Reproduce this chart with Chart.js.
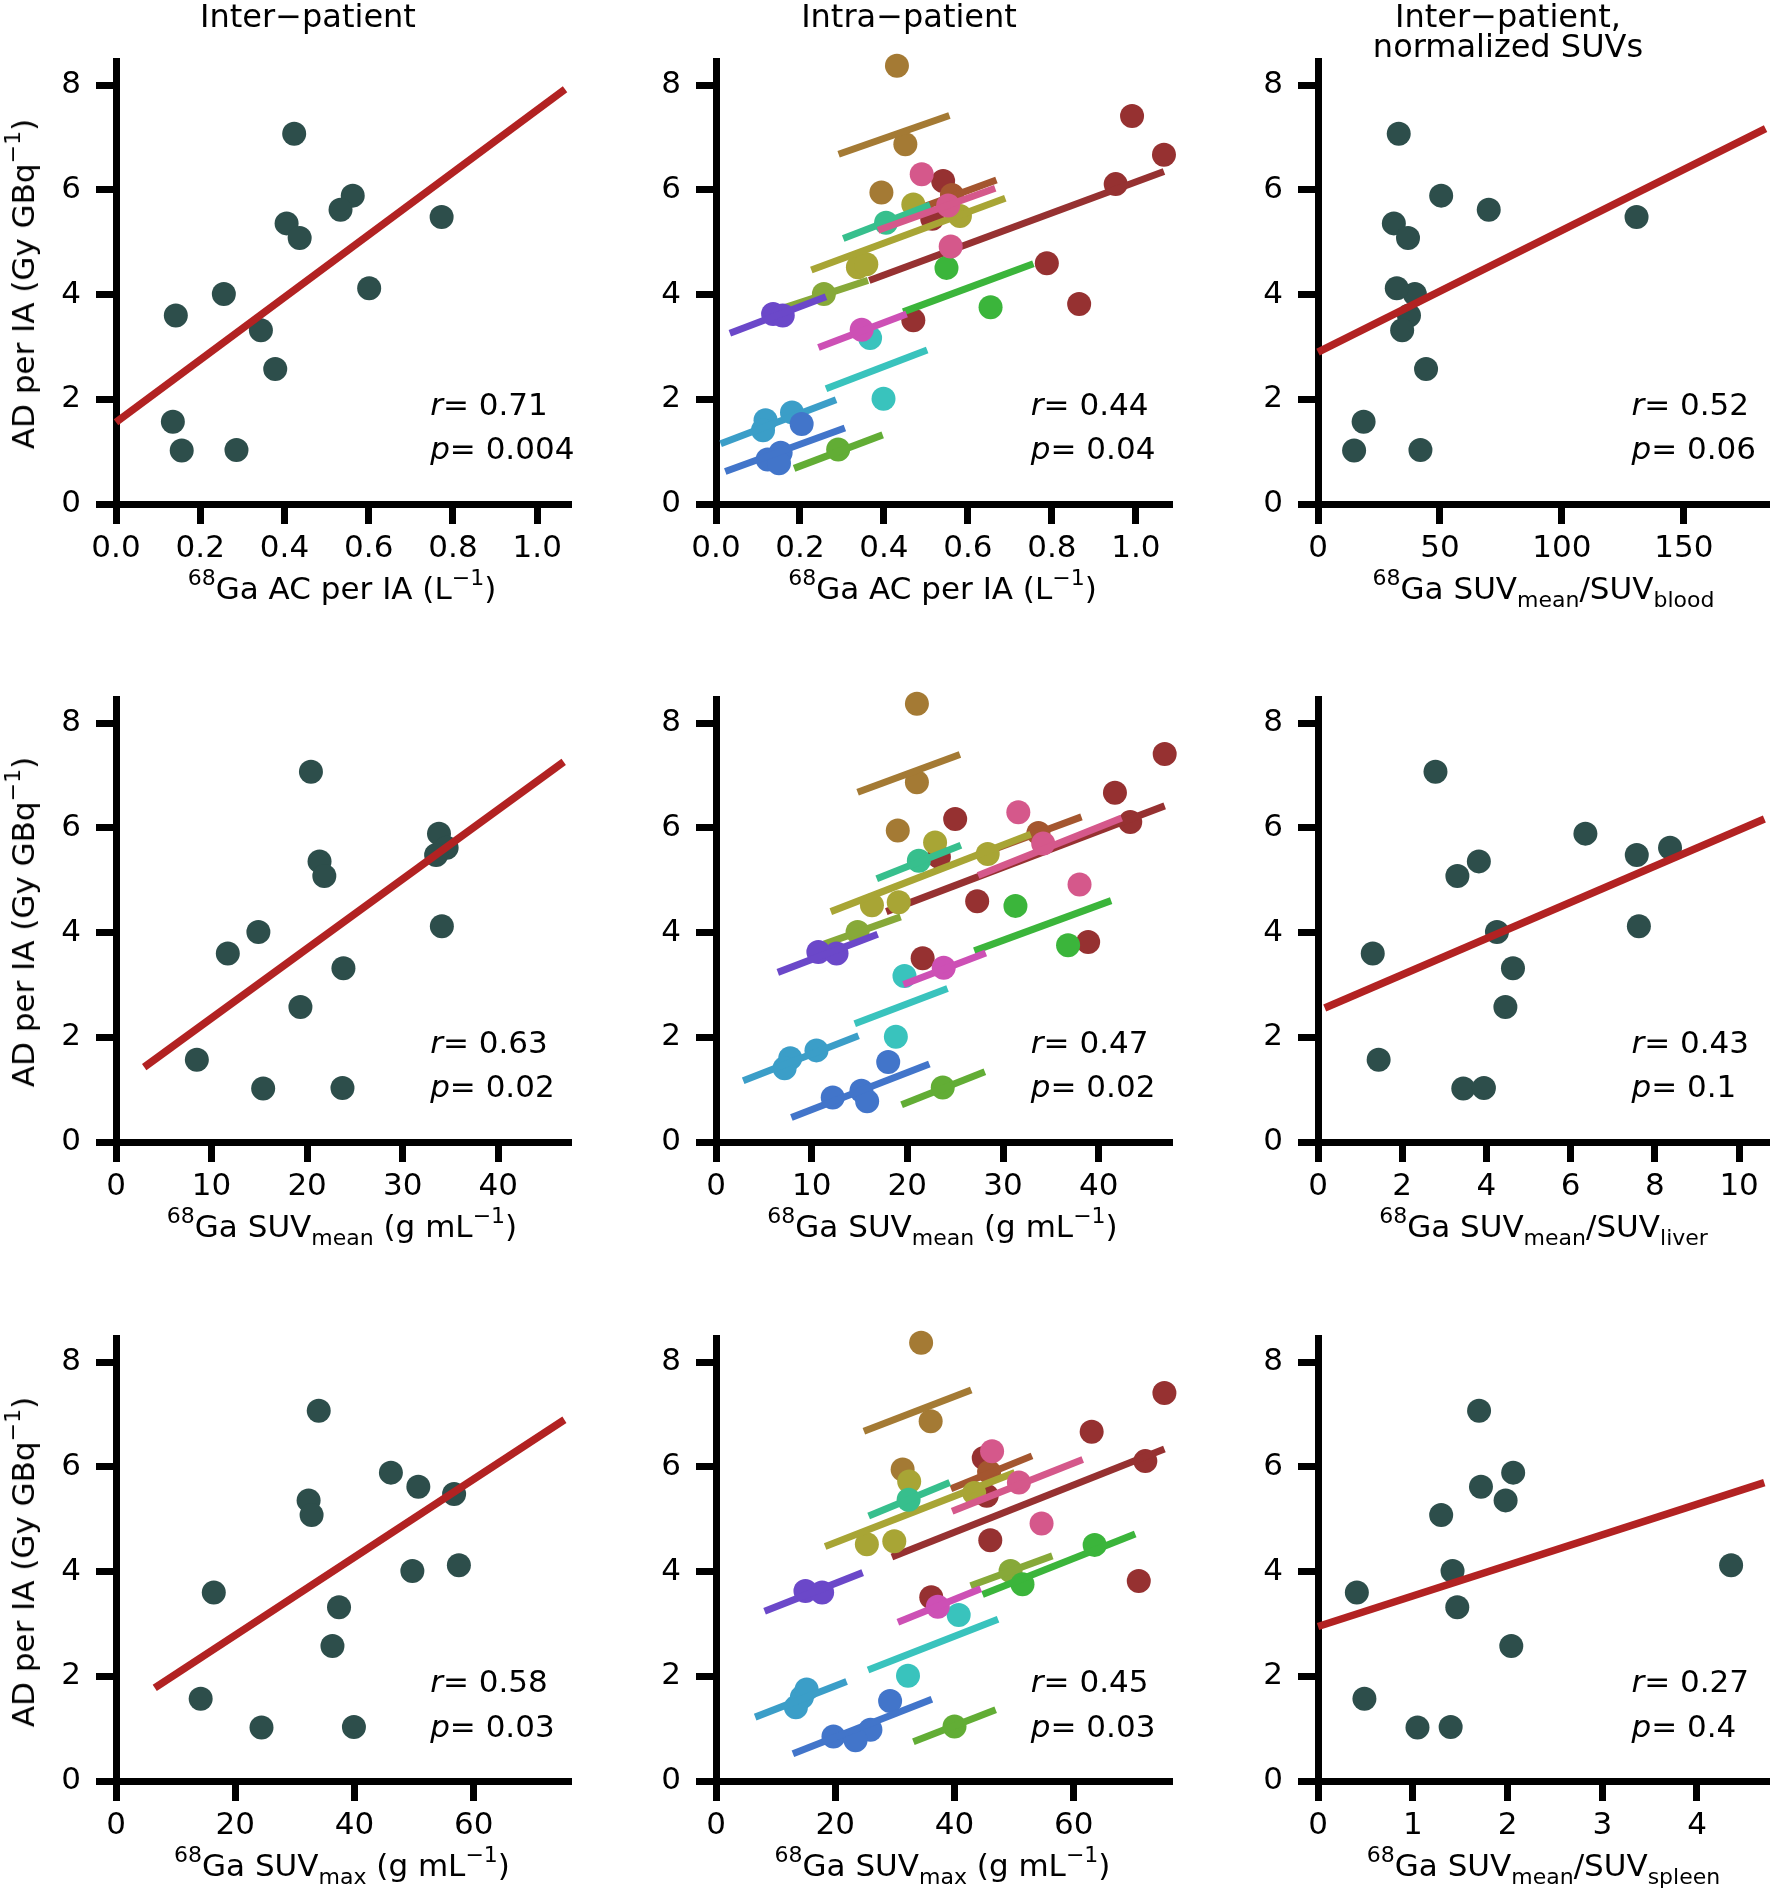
<!DOCTYPE html>
<html><head><meta charset="utf-8">
<script src="https://cdn.jsdelivr.net/npm/chart.js@4.4.0/dist/chart.umd.min.js"></script>
<style>
html,body{margin:0;padding:0;background:#fff;width:1770px;height:1895px;overflow:hidden;}
body{position:relative;font-family:"DejaVu Sans",sans-serif;color:#000;}
canvas{position:absolute;}
.t{position:absolute;white-space:nowrap;font-size:31px;line-height:31px;}
.ttl{position:absolute;white-space:nowrap;font-size:32px;line-height:30px;text-align:center;transform:translateX(-50%);top:1px;}
.sup{font-size:22px;position:relative;top:-14px;}
.sub{font-size:22px;position:relative;top:8px;}
</style></head><body>
<script>
// ---------------- DATA ----------------
// Inter-patient (one value per patient P1..P14)
const patientAD      = [7.07, 5.89, 5.62, 5.36, 5.08, 5.48, 4.01, 4.12, 3.60, 3.32, 2.58, 1.57, 1.02, 1.03];
const patientAC      = [0.423, 0.562, 0.533, 0.405, 0.436, 0.773, 0.256, 0.601, 0.142, 0.344, 0.378, 0.135, 0.156, 0.286];
const patientSUVmean = [20.4, 33.8, 34.6, 21.3, 21.8, 33.5, 14.9, 34.1, 11.7, 23.8, 19.3, 8.46, 15.4, 23.7];
const patientSUVmax  = [34.0, 46.1, 50.7, 32.3, 32.8, 56.7, 49.7, 57.5, 16.4, 37.4, 36.3, 14.2, 24.4, 39.9];
const patientBlood   = [33.1, 50.5, 70.0, 31.1, 36.9, 130.6, 39.7, 32.3, 37.3, 34.5, 44.3, 18.7, 14.8, 42.0];
const patientLiver   = [2.79, 6.35, 8.36, 3.82, 3.31, 7.57, 4.25, 7.62, 1.30, 4.63, 4.45, 1.44, 3.45, 3.94];
const patientSpleen  = [1.70, 2.06, 1.72, 1.98, 1.30, null, 1.42, 4.36, 0.41, 1.47, 2.04, 0.49, 1.05, 1.40];

// Inter-patient regression lines [x0, y0, x1, y1]
const fitAC     = [0, 1.56, 1.066, 7.92];
const fitSUVmean= [2.95, 1.43, 46.85, 7.26];
const fitSUVmax = [6.5, 1.78, 75.2, 6.90];
const fitBlood  = [0, 2.90, 183.5, 7.17];
const fitLiver  = [0.16, 2.56, 10.6, 6.17];
const fitSpleen = [0, 2.95, 4.71, 5.70];

// Intra-patient lesions
const lesionPatient = [0,0,0, 1, 2,2,2, 3, 4,4,4,4, 5,5,5,5,5,5,5,5, 6, 7,7, 8,8, 9, 10,10, 11,11,11, 12,12,12,12, 13];
const lesionAD      = [8.37,6.87,5.95, 5.90, 6.30,5.70,4.92, 5.37, 5.72,5.50,4.52,4.58, 7.41,6.67,6.11,6.17,4.60,3.82,3.51,5.45, 4.01, 4.51,3.76, 3.63,3.60, 3.33, 3.17,2.01, 1.60,1.41,1.75, 1.53,0.98,0.85,0.78, 1.04];
const lesionAC      = [0.431,0.451,0.394, 0.562, 0.490,0.553,0.559, 0.405, 0.470,0.581,0.338,0.358, 0.991,1.067,0.952,0.541,0.788,0.865,0.470,0.515, 0.257, 0.549,0.654, 0.136,0.159, 0.347, 0.367,0.399, 0.118,0.112,0.181, 0.204,0.154,0.123,0.150, 0.291];
const lesionSUVmean = [21.0,21.0,19.0, 33.7, 31.6,34.2,38.0, 21.2, 22.9,28.4,16.3,19.1, 46.9,41.7,43.3,25.0,27.3,38.9,21.6,23.3, 14.8, 31.3,36.8, 10.7,12.6, 23.8, 19.7,18.8, 7.76,7.17,10.5, 18.0,15.2,12.2,15.8, 23.7];
const lesionSUVmax  = [34.4,36.0,31.3, 45.8, 46.3,50.8,54.6, 32.3, 32.4,43.3,25.3,29.9, 75.2,63.0,72.0,44.9,46.0,70.9,36.1,45.4, 49.4, 63.5,51.4, 15.0,17.8, 37.2, 40.7,32.2, 14.4,13.4,15.2, 29.2,25.9,19.7,23.4, 40.0];

// Repeated-measures per-patient lines [x0, y0, x1, y1] (P1..P14)
const rmFitAC = [
 [0.292,6.68,0.556,7.42],[0.462,5.58,0.668,6.19],[0.386,5.23,0.665,6.03],[0.303,5.07,0.510,5.71],
 [0.227,4.47,0.689,5.84],[0.365,4.27,1.067,6.35],[0.160,3.74,0.362,4.27],[0.446,3.67,0.756,4.59],
 [0.033,3.26,0.262,3.96],[0.244,2.99,0.454,3.63],[0.262,2.20,0.503,2.94],[0.011,1.15,0.286,1.99],
 [0.022,0.62,0.307,1.45],[0.186,0.68,0.397,1.32]];
const rmFitSUVmean = [
 [14.8,6.68,25.5,7.40],[29.2,5.60,38.2,6.21],[27.4,5.09,42.4,6.19],[16.8,5.03,25.6,5.67],
 [12.0,4.40,32.9,5.88],[17.8,4.40,46.9,6.42],[11.3,3.78,19.3,4.30],[27.0,3.65,41.3,4.61],
 [6.46,3.24,16.9,3.97],[19.6,3.01,28.2,3.61],[14.5,2.26,24.2,2.93],[2.84,1.17,14.9,2.03],
 [7.88,0.47,22.3,1.49],[19.4,0.71,28.1,1.34]];
const rmFitSUVmax = [
 [24.8,6.68,42.8,7.47],[39.4,5.58,53.0,6.21],[39.6,5.15,61.5,6.14],[25.6,5.06,39.2,5.70],
 [18.3,4.48,50.1,5.89],[29.5,4.28,75.2,6.34],[42.7,3.73,56.4,4.30],[44.7,3.56,70.3,4.72],
 [8.15,3.24,24.6,3.98],[30.5,3.03,44.4,3.67],[25.5,2.12,47.3,3.09],[6.57,1.22,21.9,1.90],
 [12.9,0.52,36.2,1.56],[33.1,0.75,46.9,1.36]];

const patientColors = ['#a47a34','#a4562f','#d5588b','#37bf8d','#a8a535','#963131','#87a939',
                       '#3bb53b','#6b48c9','#cd50b5','#39c3bd','#3b9ec8','#4275ca','#62ad35'];
const drawOrder = [5,1,0,4,6,13,7,3,10,11,12,8,9,2]; // bottom -> top

// Ticks
const ticksY = [0,2,4,6,8];
const ticksAC = [0,0.2,0.4,0.6,0.8,1.0];
const ticksSUVmean = [0,10,20,30,40];
const ticksSUVmax = [0,20,40,60];
const ticksBlood = [0,50,100,150];
const ticksLiver = [0,2,4,6,8,10];
const ticksSpleen = [0,1,2,3,4];

// Statistics text
const statR = ['0.71','0.44','0.52','0.63','0.47','0.43','0.58','0.45','0.27'];
const statP = ['0.004','0.04','0.06','0.02','0.02','0.1','0.03','0.03','0.4'];

const colTitles = ['Inter\u2212patient','Intra\u2212patient','Inter\u2212patient,<br>normalized SUVs'];

// ---------------- LAYOUT ----------------
const SUP = s => `<span class="sup">${s}</span>`;
const SUB = s => `<span class="sub">${s}</span>`;
const LBL = {
  ac:    `${SUP('68')}Ga AC per IA (L${SUP('\u22121')})`,
  mean:  `${SUP('68')}Ga SUV${SUB('mean')} (g mL${SUP('\u22121')})`,
  max:   `${SUP('68')}Ga SUV${SUB('max')} (g mL${SUP('\u22121')})`,
  blood: `${SUP('68')}Ga SUV${SUB('mean')}/SUV${SUB('blood')}`,
  liver: `${SUP('68')}Ga SUV${SUB('mean')}/SUV${SUB('liver')}`,
  spleen:`${SUP('68')}Ga SUV${SUB('mean')}/SUV${SUB('spleen')}`
};
const yLabel = `AD per IA (Gy GBq${SUP('\u22121')})`;

const cols = [{L:116,R:568},{L:716,R:1169},{L:1318,R:1769}];
const rowB = [503.5, 1141.5, 1781];
const YMAX = 8.45, H = 442;
const titleX = [308, 909, 1508];

function addText(html, left, top, extraStyle) {
  const d = document.createElement('div');
  d.className = 't';
  d.innerHTML = html;
  d.style.left = left + 'px';
  d.style.top = top + 'px';
  if (extraStyle) d.style.cssText += extraStyle;
  document.body.appendChild(d);
  return d;
}

function makeChart(row, col, xmax, ticks, dec, datasets) {
  const L = cols[col].L, R = cols[col].R, B = rowB[row], T = B - H;
  const padL = 100, padT = 20, padR = 24, padB = 70;
  const w = (R - L) + padL + padR, h = H + padT + padB;
  const cv = document.createElement('canvas');
  cv.width = w; cv.height = h;
  cv.style.left = (L - padL) + 'px'; cv.style.top = (T - padT) + 'px';
  cv.style.width = w + 'px'; cv.style.height = h + 'px';
  document.body.appendChild(cv);
  const tickFont = {family: 'DejaVu Sans', size: 31};
  const grid = {display: true, drawOnChartArea: false, drawTicks: true, tickLength: 20,
                tickWidth: 7, tickColor: '#000', color: '#000', lineWidth: 7};
  const chart = new Chart(cv.getContext('2d'), {
    type: 'scatter',
    data: {datasets},
    options: {
      responsive: false, maintainAspectRatio: false, animation: false, events: [],
      layout: {padding: {left: 0, top: padT, right: padR, bottom: 0}},
      plugins: {legend: {display: false}, tooltip: {enabled: false}},
      scales: {
        x: {type: 'linear', position: 'bottom', min: 0, max: xmax,
            afterFit: s => { s.height = padB; },
            afterBuildTicks: s => { s.ticks = ticks.map(v => ({value: v})); },
            ticks: {color: '#000', font: tickFont, padding: 6, maxRotation: 0, autoSkip: false,
                    callback: v => Number(v).toFixed(dec)},
            grid: grid, border: {display: true, color: '#000', width: 7}},
        y: {type: 'linear', position: 'left', min: 0, max: YMAX,
            afterFit: s => { s.width = padL; },
            afterBuildTicks: s => { s.ticks = ticksY.map(v => ({value: v})); },
            ticks: {color: '#000', font: tickFont, padding: 15, autoSkip: false,
                    callback: v => String(v)},
            grid: grid, border: {display: true, color: '#000', width: 7}}
      }
    }
  });
  // make the plot area exactly the intended size, then place it
  let ca = chart.chartArea;
  const dw = (R - L) - (ca.right - ca.left), dh = H - (ca.bottom - ca.top);
  if (Math.abs(dw) > 0.5 || Math.abs(dh) > 0.5) {
    chart.resize(Math.round(w + dw), Math.round(h + dh));
    ca = chart.chartArea;
  }
  cv.style.left = (L - ca.left) + 'px';
  cv.style.top = (T - ca.top) + 'px';
  // stats
  const tx = L + 0.695 * (R - L);
  addText(`<i>r</i>= ${statR[row * 3 + col]}`, tx, B - 0.2 * H - 26.2);
  addText(`<i>p</i>= ${statP[row * 3 + col]}`, tx, B - 0.1 * H - 26.2);
}

function lineDS(f, color, width, order) {
  return {type: 'line', data: [{x: f[0], y: f[1]}, {x: f[2], y: f[3]}], borderColor: color,
          borderWidth: width, pointRadius: 0, fill: false, borderCapStyle: 'butt', clip: false, order};
}
function pointDS(pts, color, order) {
  return {type: 'scatter', data: pts, backgroundColor: color, borderWidth: 0, pointRadius: 12,
          pointHoverRadius: 12, clip: false, order};
}

function interPanel(row, col, xs, fit, xmax, ticks, dec) {
  const pts = [];
  xs.forEach((x, i) => { if (x !== null) pts.push({x, y: patientAD[i]}); });
  makeChart(row, col, xmax, ticks, dec, [lineDS(fit, '#b22222', 7.5, 0), pointDS(pts, '#2d4e4b', 1)]);
}

function intraPanel(row, xs, fits, xmax, ticks, dec) {
  const ds = [];
  drawOrder.forEach((p, k) => {
    const pts = [];
    lesionPatient.forEach((lp, i) => { if (lp === p) pts.push({x: xs[i], y: lesionAD[i]}); });
    ds.push(pointDS(pts, patientColors[p], 1000 - 2 * k));
    ds.push(lineDS(fits[p], patientColors[p], 7, 1000 - 2 * k - 1));
  });
  makeChart(row, 1, xmax, ticks, dec, ds);
}

interPanel(0, 0, patientAC, fitAC, 1.073, ticksAC, 1);
intraPanel(0, lesionAC, rmFitAC, 1.079, ticksAC, 1);
interPanel(0, 2, patientBlood, fitBlood, 184.9, ticksBlood, 0);
interPanel(1, 0, patientSUVmean, fitSUVmean, 47.3, ticksSUVmean, 0);
intraPanel(1, lesionSUVmean, rmFitSUVmean, 47.35, ticksSUVmean, 0);
interPanel(1, 2, patientLiver, fitLiver, 10.71, ticksLiver, 0);
interPanel(2, 0, patientSUVmax, fitSUVmax, 75.8, ticksSUVmax, 0);
intraPanel(2, lesionSUVmax, rmFitSUVmax, 75.97, ticksSUVmax, 0);
interPanel(2, 2, patientSpleen, fitSpleen, 4.76, ticksSpleen, 0);

// axis labels
const xLabelKeys = [['ac','ac','blood'],['mean','mean','liver'],['max','max','spleen']];
for (let r = 0; r < 3; r++) {
  for (let c = 0; c < 3; c++) {
    const cx = (cols[c].L + cols[c].R) / 2;
    addText(LBL[xLabelKeys[r][c]], cx, rowB[r] + 95.5 - 26.2, 'transform:translateX(-50%);');
  }
  const cy = rowB[r] - H / 2;
  addText(yLabel, 25.3, cy - 15.5, 'transform:translateX(-50%) rotate(-90deg);transform-origin:50% 50%;');
}
// column titles
colTitles.forEach((t, c) => {
  const d = document.createElement('div');
  d.className = 'ttl';
  d.innerHTML = t;
  d.style.left = titleX[c] + 'px';
  document.body.appendChild(d);
});
</script>
</body></html>
